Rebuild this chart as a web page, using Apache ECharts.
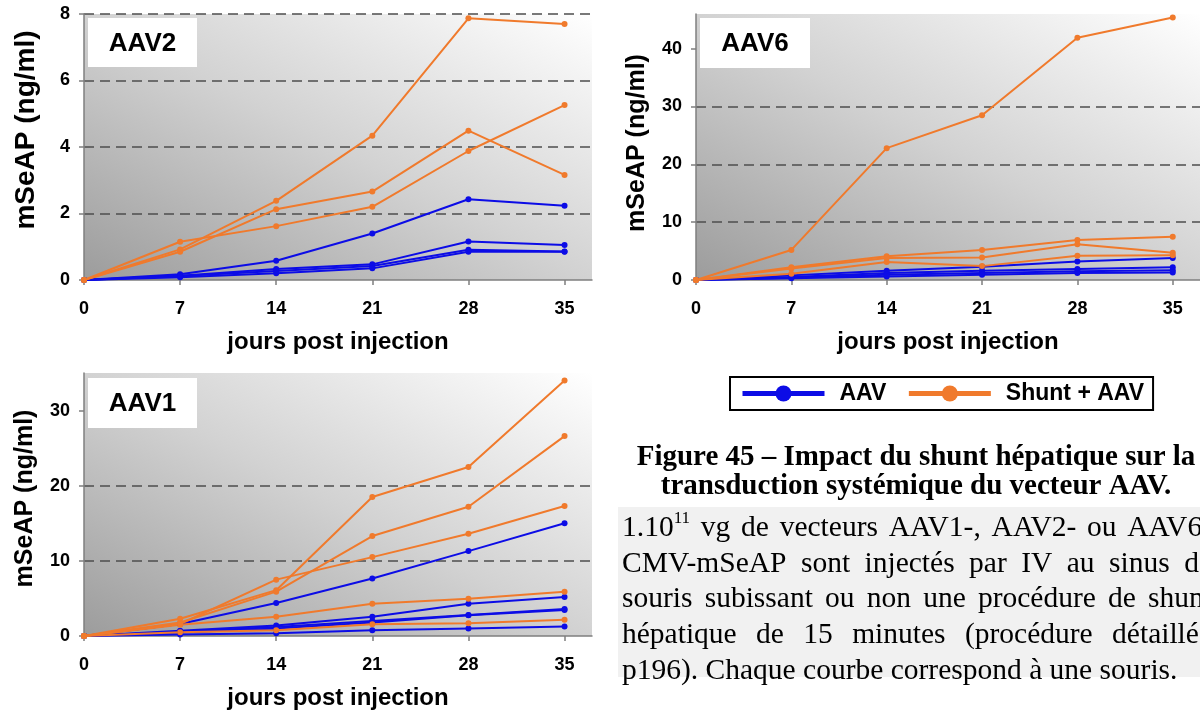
<!DOCTYPE html>
<html><head><meta charset="utf-8">
<script src="https://cdn.jsdelivr.net/npm/echarts@6/dist/echarts.min.js"></script>
<style>html,body{margin:0;padding:0;background:#fff}#c{width:1200px;height:711px}</style>
</head><body><div id="c"></div>
<script>
// ---------------- data ----------------
const days = [0, 7, 14, 21, 28, 35];

// AAV2 panel
const aav2Ctrl1 = [0, 0.17, 0.58, 1.40, 2.43, 2.23];
const aav2Ctrl2 = [0, 0.13, 0.33, 0.47, 1.16, 1.05];
const aav2Ctrl3 = [0, 0.12, 0.27, 0.42, 0.91, 0.86];
const aav2Ctrl4 = [0, 0.08, 0.20, 0.35, 0.85, 0.85];
const aav2Shunt1 = [0, 1.15, 1.62, 2.20, 3.88, 5.26];
const aav2Shunt2 = [0, 0.92, 2.38, 4.34, 7.87, 7.70];
const aav2Shunt3 = [0, 0.85, 2.13, 2.66, 4.49, 3.16];
const aav2YTicks = [0, 2, 4, 6, 8];

// AAV6 panel
const aav6Ctrl1 = [0, 0.8, 1.6, 2.3, 3.2, 3.8];
const aav6Ctrl2 = [0, 0.5, 1.2, 1.6, 1.9, 2.2];
const aav6Ctrl3 = [0, 0.4, 0.9, 1.2, 1.5, 1.7];
const aav6Ctrl4 = [0, 0.3, 0.6, 0.9, 1.2, 1.3];
const aav6Shunt1 = [0, 5.2, 22.8, 28.5, 41.9, 45.4];
const aav6Shunt2 = [0, 2.2, 4.1, 5.2, 6.9, 7.5];
const aav6Shunt3 = [0, 2.0, 3.8, 3.9, 6.2, 4.7];
const aav6Shunt4 = [0, 1.1, 3.1, 2.4, 4.2, 4.3];
const aav6YTicks = [0, 10, 20, 30, 40];

// AAV1 panel
const aav1Ctrl1 = [0, 1.6, 4.4, 7.65, 11.3, 15.0];
const aav1Ctrl2 = [0, 0.7, 1.4, 2.55, 4.3, 5.2];
const aav1Ctrl3 = [0, 0.55, 1.2, 2.0, 2.8, 3.6];
const aav1Ctrl4 = [0, 0.45, 1.0, 1.8, 2.75, 3.45];
const aav1Ctrl5 = [0, 0.2, 0.35, 0.75, 1.0, 1.25];
const aav1Shunt1 = [0, 2.3, 6.1, 18.5, 22.5, 34.0];
const aav1Shunt2 = [0, 1.8, 5.9, 13.3, 17.2, 26.6];
const aav1Shunt3 = [0, 1.6, 7.5, 10.5, 13.6, 17.3];
const aav1Shunt4 = [0, 1.5, 2.55, 4.3, 4.95, 5.9];
const aav1Shunt5 = [0, 0.5, 0.75, 1.55, 1.7, 2.15];
const aav1YTicks = [0, 10, 20, 30];

const legendNames = ['AAV', 'Shunt + AAV'];
const xTitle = 'jours post injection';
const yTitle = 'mSeAP (ng/ml)';
const captionTitle = ['Figure 45 – Impact du shunt hépatique sur la', 'transduction systémique du vecteur AAV.'];
const captionBody = [
  '1.10^11 vg de vecteurs AAV1-, AAV2- ou AAV6-',
  'CMV-mSeAP sont injectés par IV au sinus de',
  'souris subissant ou non une procédure de shunt',
  'hépatique de 15 minutes (procédure détaillée',
  'p196). Chaque courbe correspond à une souris.'
];

// ---------------- layout / style ----------------
const BLUE = '#0c0ce6', ORANGE = '#f07a2c';
const SANS = "'Liberation Sans', Arial, sans-serif";
const SERIF = "'Liberation Serif', 'Times New Roman', serif";

const panels = [
  { label: 'AAV2', grid: { left: 84, top: 14, width: 508, height: 266 }, yMax: 8, yTicks: aav2YTicks, maxLine: true,
    ctrl: [aav2Ctrl1, aav2Ctrl2, aav2Ctrl3, aav2Ctrl4], shunt: [aav2Shunt1, aav2Shunt2, aav2Shunt3],
    box: { x: 88, y: 18, w: 109, h: 49 }, yName: { size: 28, gap: 44, pad: [0, 0, 0, 34] } },
  { label: 'AAV6', grid: { left: 696, top: 14, width: 508, height: 266 }, yMax: 46, yTicks: aav6YTicks, maxLine: false,
    ctrl: [aav6Ctrl1, aav6Ctrl2, aav6Ctrl3, aav6Ctrl4], shunt: [aav6Shunt1, aav6Shunt2, aav6Shunt3, aav6Shunt4],
    box: { x: 700, y: 18, w: 110, h: 50 }, yName: { size: 25, gap: 46, pad: [0, 0, 0, 8] } },
  { label: 'AAV1', grid: { left: 84, top: 373, width: 508, height: 264 }, yMax: 35, yTicks: aav1YTicks, maxLine: false,
    ctrl: [aav1Ctrl1, aav1Ctrl2, aav1Ctrl3, aav1Ctrl4, aav1Ctrl5], shunt: [aav1Shunt1, aav1Shunt2, aav1Shunt3, aav1Shunt4, aav1Shunt5],
    box: { x: 88, y: 378, w: 109, h: 50 }, yName: { size: 25, gap: 46, pad: [0, 0, 0, 12] } }
];

// diagonal gradient: equal shade along the top-left / bottom-right diagonal
function plotGradient(g) {
  const w = g.width, h = g.height;
  const cx = g.left + w / 2, cy = g.top + h / 2;
  const L = Math.sqrt(w * w + h * h);
  const ux = h / L, uy = -w / L, r = w * h / L;
  return { type: 'linear', global: true,
    x: cx - ux * r, y: cy - uy * r, x2: cx + ux * r, y2: cy + uy * r,
    colorStops: [{ offset: 0, color: '#9c9c9c' }, { offset: 0.5, color: '#d2d2d2' }, { offset: 1, color: '#ffffff' }] };
}
const axisCol = '#7f7f7f';

const grids = [], xAxes = [], yAxes = [], series = [], graphics = [];
panels.forEach((p, i) => {
  grids.push(Object.assign({ show: true, backgroundColor: plotGradient(p.grid), borderWidth: 0, containLabel: false }, p.grid));
  xAxes.push({
    type: 'value', gridIndex: i, min: 0, max: 37, interval: 7,
    axisLine: { show: true, lineStyle: { color: axisCol, width: 1.5 } },
    axisTick: { show: true, length: 5, customValues: days, lineStyle: { color: axisCol, width: 1.5 } },
    axisLabel: { customValues: days, margin: 20, fontSize: 18, fontWeight: 'bold', color: '#000', fontFamily: SANS },
    splitLine: { show: false },
    name: xTitle, nameLocation: 'middle', nameGap: 50,
    nameTextStyle: { fontSize: 24, fontWeight: 'bold', color: '#000', fontFamily: SANS }
  });
  yAxes.push({
    type: 'value', gridIndex: i, min: 0, max: p.yMax, interval: p.yTicks[1] - p.yTicks[0],
    axisLine: { show: true, lineStyle: { color: axisCol, width: 1.5 } },
    axisTick: { show: true, length: 5, customValues: p.yTicks, lineStyle: { color: axisCol, width: 1.5 } },
    axisLabel: { customValues: p.yTicks, margin: 14, fontSize: 18, fontWeight: 'bold', color: '#000', fontFamily: SANS },
    splitLine: { show: true, showMinLine: false, showMaxLine: p.maxLine, lineStyle: { type: [10, 6], color: '#4d4d4d', width: 1.5 } },
    name: yTitle, nameLocation: 'middle', nameGap: p.yName.gap, nameRotate: 90,
    nameTextStyle: { fontSize: p.yName.size, fontWeight: 'bold', color: '#000', fontFamily: SANS, padding: p.yName.pad }
  });
  const mk = (arr, name, color) => ({
    type: 'line', name: name, xAxisIndex: i, yAxisIndex: i,
    data: days.map((d, k) => [d, arr[k]]),
    symbol: 'circle', symbolSize: 6, showSymbol: true,
    lineStyle: { width: 2, color: color }, itemStyle: { color: color },
    emphasis: { disabled: true }, animation: false, z: 3
  });
  p.ctrl.forEach(a => series.push(mk(a, legendNames[0], BLUE)));
  p.shunt.forEach(a => series.push(mk(a, legendNames[1], ORANGE)));
  graphics.push({
    type: 'rect', z: 1, shape: { x: p.box.x, y: p.box.y, width: p.box.w, height: p.box.h },
    style: { fill: '#ffffff' }
  });
  graphics.push({
    type: 'text', z: 2, x: p.box.x + p.box.w / 2, y: p.box.y + p.box.h / 2 + 1,
    style: { text: p.label, font: `bold 26px ${SANS}`, fill: '#000', align: 'center', verticalAlign: 'middle' }
  });
});

// ---------- caption ----------
const mctx = document.createElement('canvas').getContext('2d');
function measure(t, font) { mctx.font = font; return mctx.measureText(t).width; }
const bodyFont = `29.5px ${SERIF}`;
const supFont = `17px ${SERIF}`;
captionTitle.forEach((t, k) => {
  graphics.push({ type: 'text', z: 2, x: 916, y: 458 + k * 29,
    style: { text: t, font: `bold 29px ${SERIF}`, fill: '#000', align: 'center', verticalAlign: 'middle' } });
});
graphics.push({ type: 'rect', z: 0, shape: { x: 618, y: 507, width: 600, height: 170 }, style: { fill: '#f1f1f1' } });
function wordWidth(w) {
  if (w.includes('^')) { const [a, b] = w.split('^'); return measure(a, bodyFont) + measure(b, supFont); }
  return measure(w, bodyFont);
}
const X0 = 622, X1 = 1212, Y0 = 528, LH = 35.8;
captionBody.forEach((line, li) => {
  const words = line.split(' ');
  const widths = words.map(wordWidth);
  const total = widths.reduce((a, b) => a + b, 0);
  let gap = measure(' ', bodyFont);
  if (li < captionBody.length - 1) gap = (X1 - X0 - total) / (words.length - 1);
  let x = X0;
  const y = Y0 + li * LH;
  words.forEach((w, k) => {
    if (w.includes('^')) {
      const [a, b] = w.split('^');
      graphics.push({ type: 'text', z: 2, x: x, y: y, style: { text: a, font: bodyFont, fill: '#000', align: 'left', verticalAlign: 'middle' } });
      graphics.push({ type: 'text', z: 2, x: x + measure(a, bodyFont), y: y - 9, style: { text: b, font: supFont, fill: '#000', align: 'left', verticalAlign: 'middle' } });
    } else {
      graphics.push({ type: 'text', z: 2, x: x, y: y, style: { text: w, font: bodyFont, fill: '#000', align: 'left', verticalAlign: 'middle' } });
    }
    x += widths[k] + gap;
  });
});

const chart = echarts.init(document.getElementById('c'), null, { renderer: 'canvas' });
chart.setOption({
  animation: false,
  backgroundColor: '#ffffff',
  grid: grids, xAxis: xAxes, yAxis: yAxes, series: series,
  legend: {
    data: legendNames, left: 730, top: 377, orient: 'horizontal',
    borderColor: '#000', borderWidth: 2, padding: [5, 9, 5, 10],
    itemGap: 20, itemWidth: 82, itemHeight: 20,
    lineStyle: { width: 5 },
    textStyle: { fontSize: 23, fontWeight: 'bold', color: '#000', fontFamily: SANS, padding: [0, 0, 0, 10] },
    selectedMode: false
  },
  graphic: { elements: graphics }
});
</script></body></html>
